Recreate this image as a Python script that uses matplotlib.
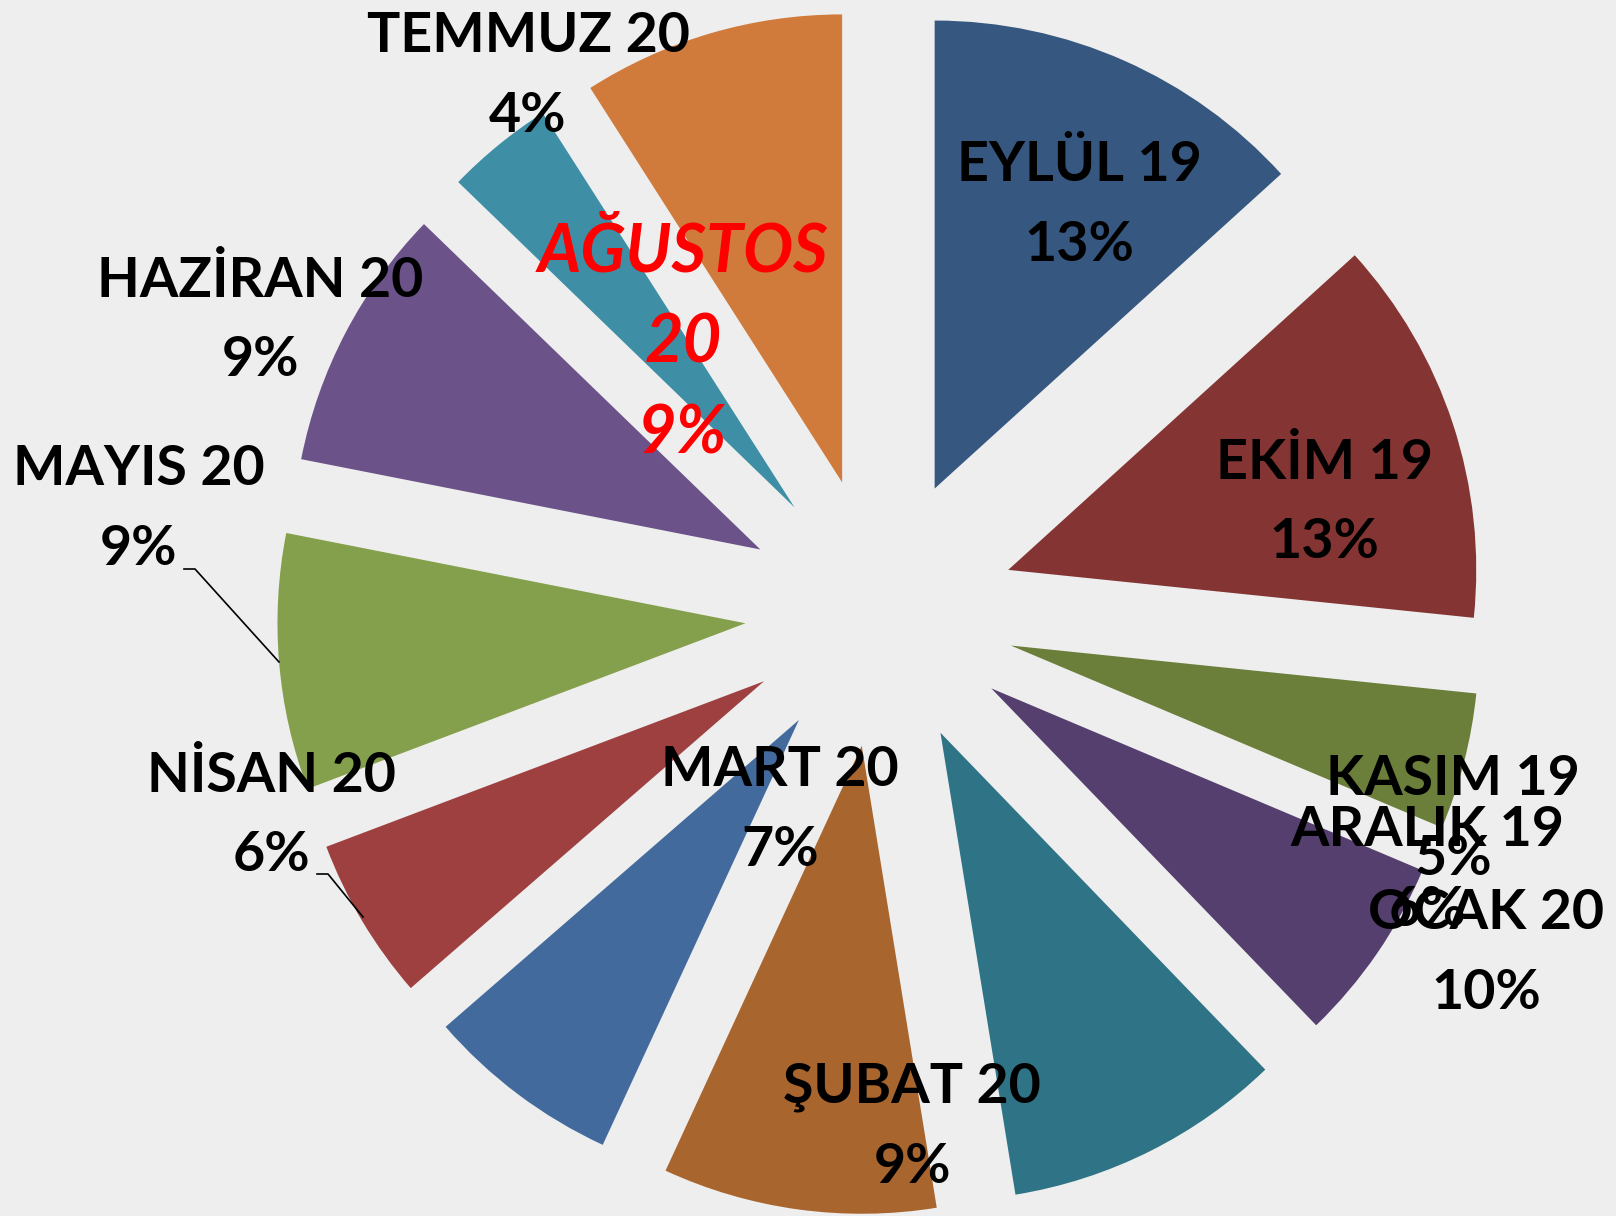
import matplotlib
matplotlib.use("Agg")
import matplotlib.pyplot as plt

# -----------------------
# DATA
# -----------------------
months = ["EYLÜL 19", "EKİM 19", "KASIM 19", "ARALIK 19", "OCAK 20", "ŞUBAT 20",
          "MART 20", "NİSAN 20", "MAYIS 20", "HAZİRAN 20", "TEMMUZ 20", "AĞUSTOS 20"]
# shares (labels show them rounded)
shares = [13.2, 13.3, 4.7, 6.4, 9.6, 9.4, 6.7, 5.6, 8.8, 9.1, 3.7, 9.0]
colors = ["#36577f", "#843533", "#6b7e3a", "#553f6e", "#2f7486", "#a8652e",
          "#426a9c", "#9f4040", "#84a04c", "#6b5289", "#3e8fa6", "#d07b3c"]

# label anchor points (pixels, y up)
label_pos = [(1079, 1011), (1324, 714), (1453, 397), (1427, 346), (1486, 263),
             (912, 89), (780, 406), (271, 401), (139, 707), (260, 896),
             (528, 1140), (683, 873)]

W, H = 1616, 1216
plt.rcParams['font.family'] = ['Lato', 'DejaVu Sans']

fig = plt.figure(figsize=(W / 100, H / 100), dpi=100)
fig.patch.set_facecolor("#eeeeee")
ax = fig.add_axes([0, 0, 1, 1])
ax.set_facecolor("#eeeeee")

ax.pie(shares, colors=colors, startangle=90, counterclock=False,
       center=(880, 604), radius=468, explode=[135] * len(shares),
       wedgeprops=dict(linewidth=0))

ax.set_xlim(0, W)
ax.set_ylim(0, H)
ax.set_aspect('equal')
ax.axis('off')

for name, val, (x, y) in zip(months, shares, label_pos):
    pct = f"{round(val)}%"
    if name.startswith("AĞUSTOS"):
        word, yr = name.split()
        ax.text(x, y, f"{word}\n{yr}\n{pct}", ha='center', va='center',
                color='red', fontsize=48, fontweight='bold', style='italic',
                linespacing=1.6)
    else:
        ax.text(x, y, f"{name}\n{pct}", ha='center', va='center',
                color='black', fontsize=40, fontweight='bold', linespacing=1.72)

# leader lines for MAYIS and NİSAN
ax.plot([184, 195, 279], [H - 569, H - 569, H - 662], color='black', lw=1.2)
ax.plot([317, 328, 363], [H - 874, H - 874, H - 917], color='black', lw=1.2)

fig.savefig("out.png", dpi=100)
